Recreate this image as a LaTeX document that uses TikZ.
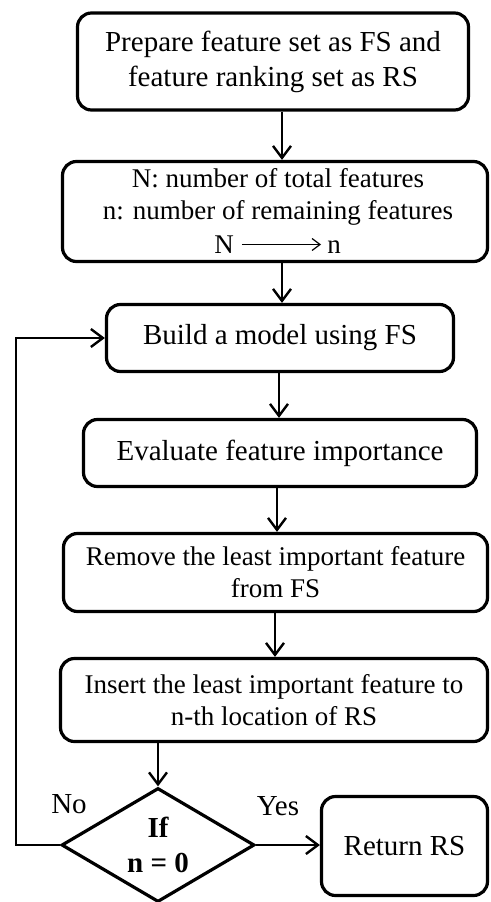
\documentclass[tikz,border=0pt]{standalone}
\usepackage{fontspec}
\setmainfont{Liberation Serif}
\usetikzlibrary{arrows.meta,shapes.geometric}

\newcommand{\bigtxt}{\fontsize{29pt}{35pt}\selectfont}
\newcommand{\midtxt}{\fontsize{27pt}{32pt}\selectfont}

\begin{document}
\begin{tikzpicture}[x=1pt,y=-1pt,
  stepbox/.style={draw,line width=3.2pt,rounded corners=14pt,align=center,inner sep=0pt},
  decision/.style={draw,diamond,line width=3.2pt,aspect=1.7,inner sep=0pt,align=center},
  arr/.style={line width=2.4pt,-{Straight Barb[length=12pt,width=18pt]}},
  thinarr/.style={line width=1.2pt,-{Straight Barb[length=8pt,width=12pt]}},
  lbl/.style={font=\bigtxt,anchor=base,inner sep=0pt}
]
\useasboundingbox (0,0) rectangle (490,902);

% process boxes
\node[stepbox,minimum width=391pt,minimum height=97pt,font=\bigtxt] (b1) at (273,61.5)
  {Prepare feature set as FS and\\feature ranking set as RS};
\node[stepbox,minimum width=425pt,minimum height=100pt] (b2) at (275,211.5) {};
\node[font=\midtxt,align=center,inner sep=0pt] (t2) at (278,197)
  {N: number of total features\\n: number of remaining features};
\node[font=\midtxt,text height=17pt,text depth=0pt,inner sep=0pt,anchor=base] (bigN) at (224,253) {N};
\node[font=\midtxt,text height=17pt,text depth=0pt,inner sep=0pt,anchor=base] (smalln) at (334,253) {n};
\draw[thinarr,shorten <=8pt,shorten >=6pt] (bigN) -- (smalln);

\node[stepbox,minimum width=347pt,minimum height=67pt,font=\bigtxt] (b3) at (280,338)
  {Build a model using FS};
\node[stepbox,minimum width=393pt,minimum height=67pt,font=\bigtxt] (b4) at (280,453)
  {Evaluate feature importance};
\node[stepbox,minimum width=424pt,minimum height=78pt,font=\midtxt] (b5) at (275.5,572.5)
  {Remove the least important feature\\from FS};
\node[stepbox,minimum width=427pt,minimum height=83pt,font=\midtxt] (b6) at (274,700)
  {Insert the least important feature to\\n-th location of RS};
\node[stepbox,minimum width=166pt,minimum height=99pt,font=\bigtxt] (b7) at (404.5,846)
  {Return RS};

% decision
\node[decision,minimum width=193pt,minimum height=114pt,font=\bigtxt\bfseries] (d) at (158,845)
  {If\\n = 0};

% connector columns
\coordinate (x1) at (282,0);
\coordinate (x3) at (279,0);
\coordinate (x4) at (277,0);
\coordinate (x5) at (275,0);
\coordinate (x6) at (158,0);
\coordinate (lp) at (16,0);

\draw[arr] (b1.south -| x1) -- (b2.north -| x1);
\draw[arr] (b2.south -| x1) -- (b3.north -| x1);
\draw[arr] (b3.south -| x3) -- (b4.north -| x3);
\draw[arr] (b4.south -| x4) -- (b5.north -| x4);
\draw[arr] (b5.south -| x5) -- (b6.north -| x5);
\draw[arr] (b6.south -| x6) -- (d.north);
\draw[arr] (d.east) -- (d.east -| b7.west);
\draw[arr] (d.west) -- (d.west -| lp) |- (b3.west);

% branch labels
\node[lbl] (no) at (69,813) {No};
\node[lbl] (yes) at (278,815) {Yes};
\end{tikzpicture}
\end{document}
